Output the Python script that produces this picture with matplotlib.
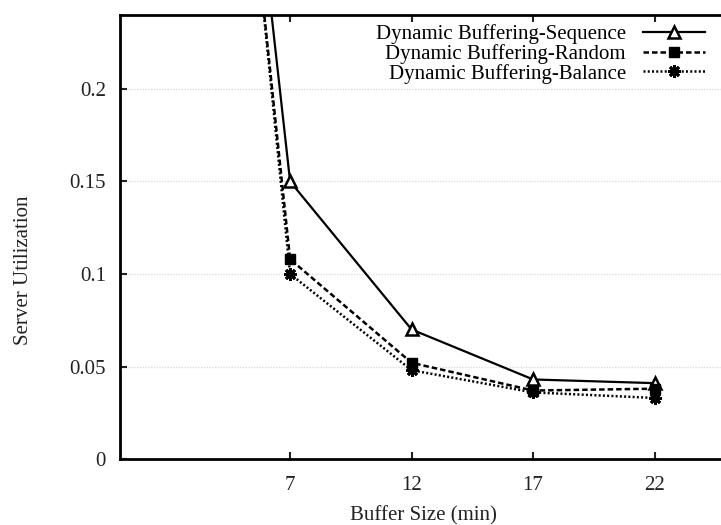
import numpy as np
import matplotlib
matplotlib.use("Agg")
import matplotlib.pyplot as plt

plt.rcParams['font.family'] = ['Liberation Serif', 'DejaVu Serif']

# buffer sizes (min); first point lies above the visible range
buffer_size = [2, 7, 12, 17, 22]
sequence = [0.74, 0.150, 0.070, 0.043, 0.041]
random_ = [0.73, 0.108, 0.052, 0.037, 0.038]
balance = [0.75, 0.100, 0.048, 0.036, 0.033]

xticks = [7, 12, 17, 22]
yticks = [0, 0.05, 0.1, 0.15, 0.2]
ytick_labels = ["0", "0.05", "0.1", "0.15", "0.2"]


def main():
    fig = plt.figure(figsize=(7.21, 5.25), dpi=100)
    ax = fig.add_axes([120 / 721, 66 / 525, 607.5 / 721, 444 / 525])

    ax.plot(buffer_size, sequence, color='black', lw=1.6, ls='-',
            marker='^', ms=8, mfc='white', mec='black', mew=1.8,
            label='Dynamic Buffering-Sequence')
    ax.plot(buffer_size, random_, color='black', lw=1.8, ls=(0, (2.2, 1.2)),
            marker='s', ms=7, mfc='black', mec='black',
            label='Dynamic Buffering-Random')
    ax.plot(buffer_size, balance, color='black', lw=1.8, ls=(0, (0.8, 0.9)),
            marker=(8, 2, 0), ms=9, mec='black', mew=2,
            label='Dynamic Buffering-Balance')

    ax.set_xlim(0, 25)
    ax.set_ylim(0, 0.24)
    ax.set_xticks(xticks)
    ax.set_yticks(yticks)
    ax.set_yticklabels(ytick_labels)
    ax.tick_params(axis='both', direction='in', length=5, width=1.5,
                   labelsize=15, colors='#222222', top=True, right=False, pad=10)
    ax.tick_params(axis='x', pad=12)
    for lab in ax.get_xticklabels() + ax.get_yticklabels():
        lab.set_color('#222222')

    ax.yaxis.grid(True, color='#dddddd', ls=(0, (1, 1)), lw=1)
    ax.set_axisbelow(True)

    for s in ['left', 'bottom', 'top']:
        ax.spines[s].set_linewidth(2)
    ax.spines['right'].set_visible(False)

    ax.set_xlabel('Buffer Size (min)', fontsize=15, color='#222222', labelpad=8)
    ax.set_ylabel('Server Utilization', fontsize=15, color='#222222')
    ax.yaxis.set_label_coords(-0.143, 0.426)

    ax.legend(loc='upper right', bbox_to_anchor=(705 / 721, 1 - 24 / 525),
              bbox_transform=fig.transFigure, frameon=False, markerfirst=False,
              fontsize=15, handlelength=3.0, handletextpad=0.8, labelspacing=0.0,
              borderpad=0, borderaxespad=0)

    fig.savefig("out.png", dpi=100)


if __name__ == "__main__":
    main()
